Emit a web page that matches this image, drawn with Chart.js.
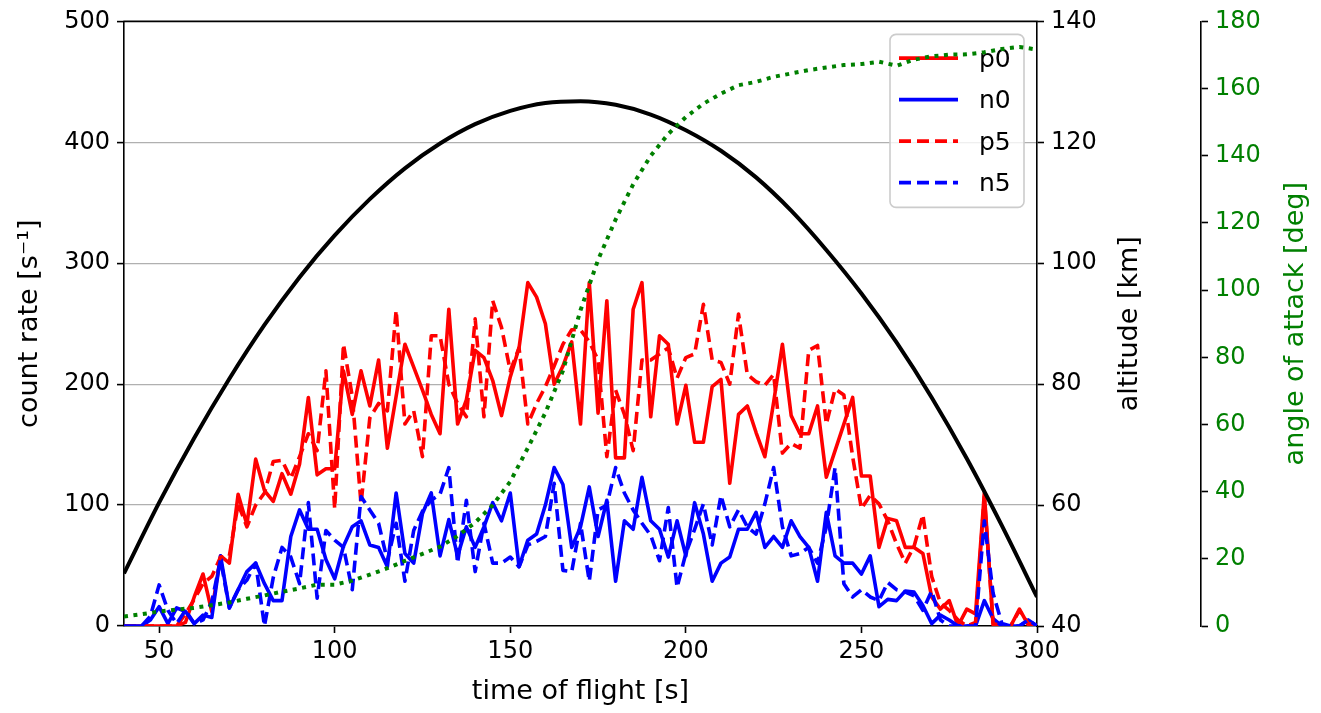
<!DOCTYPE html>
<html>
<head>
<meta charset="utf-8">
<script src="https://cdn.jsdelivr.net/npm/chart.js@4.4.1/dist/chart.umd.min.js"></script>
<style>
html,body{margin:0;padding:0;background:#ffffff;overflow:hidden;}
#wrap{position:relative;width:1321px;height:713px;}
canvas{display:block;}
</style>
</head>
<body>
<div id="wrap"><canvas id="chart" width="1321" height="713"></canvas></div>
<script>
// ---- data ----
const times = [40,42.5,45,47.5,50,52.5,55,57.5,60,62.5,
  65,67.5,70,72.5,75,77.5,80,82.5,85,87.5,
  90,92.5,95,97.5,100,102.5,105,107.5,110,112.5,
  115,117.5,120,122.5,125,127.5,130,132.5,135,137.5,
  140,142.5,145,147.5,150,152.5,155,157.5,160,162.5,
  165,167.5,170,172.5,175,177.5,180,182.5,185,187.5,
  190,192.5,195,197.5,200,202.5,205,207.5,210,212.5,
  215,217.5,220,222.5,225,227.5,230,232.5,235,237.5,
  240,242.5,245,247.5,250,252.5,255,257.5,260,262.5,
  265,267.5,270,272.5,275,277.5,280,282.5,285,287.5,
  290,292.5,295,297.5,300];

const p0 = [0,0,0,0,0,0,0,3,24,43,
  12,58,52,109,84,138,112,103,126,109,
  134,189,125,130,130,211,175,211,182,220,
  147,190,233,214,195,175,159,262,167,187,
  228,222,203,174,206,230,284,272,250,200,
  215,235,167,284,176,269,139,139,262,284,
  173,240,233,167,199,152,152,198,204,118,
  175,182,160,140,185,233,174,159,159,182,
  123,145,167,189,124,124,65,89,87,65,
  65,60,24,14,21,0,14,10,110,1,
  0,0,14,1,0];

const n0 = [0,0,0,5,16,2,15,12,2,9,
  7,58,15,30,45,52,35,21,21,74,
  96,80,80,55,39,66,82,87,67,65,
  49,110,60,52,93,110,58,88,58,82,
  65,82,102,87,110,49,71,76,100,131,
  117,65,82,115,74,104,37,87,80,123,
  87,80,57,87,58,102,76,37,52,57,
  80,80,94,65,74,65,87,74,65,37,
  94,58,52,52,43,58,16,22,21,29,
  28,17,2,9,5,0,0,0,21,6,
  0,0,0,5,0];

const p5 = [0,0,0,0,0,0,0,10,22,35,
  41,57,58,101,82,100,110,136,137,122,
  140,159,145,211,97,233,190,101,172,184,
  178,261,167,178,140,240,240,200,184,173,
  254,173,269,247,211,230,167,184,198,215,
  233,245,245,235,220,140,195,175,145,220,
  220,225,230,205,222,225,266,220,218,200,
  258,208,202,199,208,143,151,147,228,232,
  167,196,191,140,97,108,101,87,68,52,
  66,92,41,19,13,5,0,3,107,2,
  0,0,13,2,0];

const n5 = [0,0,0,8,34,13,2,13,2,5,
  20,55,15,30,38,52,0,40,65,57,
  35,102,23,79,71,65,30,107,96,85,
  54,85,37,79,95,104,109,131,52,104,
  45,85,52,52,57,49,67,70,74,118,
  46,45,85,37,96,100,131,110,96,85,
  75,54,98,32,60,80,101,67,108,82,
  96,82,76,101,131,82,58,60,65,52,
  82,131,35,24,30,24,21,36,30,28,
  25,13,29,5,0,0,0,0,87,27,
  2,0,0,5,0];

const altTimes = [40,50,60,70,80,90,100,110,120,130,140,150,160,170,
  180,190,200,210,220,230,240,250,260,270,280,290,300];
const altitude = [48.7,60.4,71.1,80.9,89.8,97.7,104.6,110.6,115.7,119.8,123.0,125.2,126.5,126.8,
  126.2,124.6,122.0,118.6,114.2,108.7,102.2,95.0,86.9,77.8,67.7,56.6,44.8];

const angTimes = [40,45,50,55,60,65,70,75,80,85,90,95,100,105,110,115,120,125,130,135,
  140,145,150,155,160,165,170,175,180,185,190,195,200,205,210,215,220,225,230,235,
  240,245,250,255,260,265,270,275,280,285,290,295,300];
const angle = [2.8,3.5,4.3,4.9,5.4,6.2,7.0,8.1,9.1,10.2,11.2,12.3,12.3,13.5,15.3,17.2,19.4,21.5,23.6,26.8,
  30.8,36.0,43.0,53.0,63.5,76.0,94.0,109.0,121.0,131.5,140.0,146.5,151.5,155.5,158.5,161.0,162.0,163.5,164.5,165.5,
  166.3,167.0,167.3,168.0,166.8,168.6,169.6,170.1,170.2,170.8,171.8,172.4,171.6];

const xTicks = [50,100,150,200,250,300];
const countTicks = [0,100,200,300,400,500];
const altTicks = [40,60,80,100,120,140];
const angTicks = [0,20,40,60,80,100,120,140,160,180];
const legendLabels = ['p0','n0','p5','n5'];

// ---- styling ----
const FONT = "'DejaVu Sans', 'Liberation Sans', sans-serif";
const GREEN = '#008000';
const TICKFONT = {family: FONT, size: 24};
const TITLEFONT = {family: FONT, size: 27};

function xy(xs, ys) { return xs.map((x, i) => ({x: x, y: ys[i]})); }
function setTicks(list) { return function (scale) { scale.ticks = list.map(v => ({value: v})); }; }

function roundRectPath(ctx, x, y, w, h, r) {
  ctx.beginPath();
  ctx.moveTo(x + r, y);
  ctx.lineTo(x + w - r, y);
  ctx.arcTo(x + w, y, x + w, y + r, r);
  ctx.lineTo(x + w, y + h - r);
  ctx.arcTo(x + w, y + h, x + w - r, y + h, r);
  ctx.lineTo(x + r, y + h);
  ctx.arcTo(x, y + h, x, y + h - r, r);
  ctx.lineTo(x, y + r);
  ctx.arcTo(x, y, x + r, y, r);
  ctx.closePath();
}

const extrasPlugin = {
  id: 'extras',
  beforeDatasetsDraw(chart) {
    const ctx = chart.ctx, a = chart.chartArea;
    ctx.save();
    ctx.strokeStyle = '#000';
    ctx.lineWidth = 1.6;
    ctx.beginPath();
    ctx.moveTo(a.left - 0.8, a.top);
    ctx.lineTo(a.right + 0.8, a.top);
    ctx.stroke();
    ctx.restore();
  },
  beforeDatasetDraw(chart, args) {
    const ds = chart.data.datasets[args.index];
    if (ds.label !== 'altitude') return;
    const ctx = chart.ctx, a = chart.chartArea;
    const w = 134, h = 173;
    const left = a.right - 13 - w, top = a.top + 13;
    ctx.save();
    roundRectPath(ctx, left, top, w, h, 6);
    ctx.fillStyle = 'rgba(255,255,255,0.8)';
    ctx.fill();
    ctx.strokeStyle = '#cccccc';
    ctx.lineWidth = 1.6;
    ctx.stroke();
    legendLabels.forEach((lab, i) => {
      const d = chart.data.datasets.find(s => s.label === lab);
      const y = top + 23.7 + i * 41.5;
      ctx.save();
      ctx.strokeStyle = d.borderColor;
      ctx.lineWidth = d.borderWidth;
      ctx.setLineDash(d.borderDash || []);
      ctx.lineCap = 'butt';
      ctx.beginPath();
      ctx.moveTo(left + 9, y);
      ctx.lineTo(left + 68, y);
      ctx.stroke();
      ctx.restore();
      ctx.fillStyle = '#000';
      ctx.font = '25px ' + FONT;
      ctx.textAlign = 'left';
      ctx.textBaseline = 'middle';
      ctx.fillText(lab, left + 89, y + 2);
    });
    ctx.restore();
  },
  afterDraw(chart) {
    const ctx = chart.ctx, a = chart.chartArea;
    const cy = (a.top + a.bottom) / 2;
    const alt = chart.scales.alt, ang = chart.scales.ang;
    function rot(text, x, color) {
      ctx.save();
      ctx.translate(x, cy);
      ctx.rotate(-Math.PI / 2);
      ctx.font = '27px ' + FONT;
      ctx.fillStyle = color;
      ctx.textAlign = 'center';
      ctx.textBaseline = 'middle';
      ctx.fillText(text, 0, 0);
      ctx.restore();
    }
    rot('altitude [km]', alt.left + 93, '#000');
    rot('angle of attack [deg]', ang.left + 95, GREEN);
  }
};

const chart = new Chart(document.getElementById('chart'), {
  type: 'line',
  data: {
    datasets: [
      {label: 'p0', data: xy(times, p0), yAxisID: 'y', borderColor: '#ff0000', borderWidth: 3.6, order: 6},
      {label: 'n0', data: xy(times, n0), yAxisID: 'y', borderColor: '#0000ff', borderWidth: 3.6, order: 5},
      {label: 'p5', data: xy(times, p5), yAxisID: 'y', borderColor: '#ff0000', borderWidth: 3.6, borderDash: [12, 6], order: 4},
      {label: 'n5', data: xy(times, n5), yAxisID: 'y', borderColor: '#0000ff', borderWidth: 3.6, borderDash: [12, 6], order: 3},
      {label: 'altitude', data: xy(altTimes, altitude), yAxisID: 'alt', borderColor: '#000000', borderWidth: 4, order: 2, cubicInterpolationMode: 'monotone'},
      {label: 'angle', data: xy(angTimes, angle), yAxisID: 'ang', borderColor: GREEN, borderWidth: 4, borderDash: [4, 5.5], order: 1}
    ]
  },
  options: {
    responsive: false,
    animation: false,
    devicePixelRatio: 1,
    events: [],
    layout: {padding: {top: 20, left: 0, right: 0, bottom: 0}},
    elements: {
      point: {radius: 0},
      line: {tension: 0, borderJoinStyle: 'round', fill: false}
    },
    plugins: {legend: {display: false}, tooltip: {enabled: false}},
    scales: {
      x: {
        type: 'linear', position: 'bottom', min: 40, max: 300,
        afterBuildTicks: setTicks(xTicks),
        afterFit: s => { s.height = 87; },
        grid: {drawOnChartArea: false, drawTicks: true, tickLength: 7, tickWidth: 1.6, tickColor: '#000'},
        border: {display: true, color: '#000', width: 1.6},
        ticks: {font: TICKFONT, color: '#000', padding: 4, maxRotation: 0, autoSkip: false},
        title: {display: true, text: 'time of flight [s]', font: TITLEFONT, color: '#000', padding: {top: 0, bottom: 5}}
      },
      y: {
        type: 'linear', position: 'left', min: 0, max: 500,
        afterBuildTicks: setTicks(countTicks),
        afterFit: s => { s.width = 124; },
        grid: {
          drawOnChartArea: true,
          color: c => (c.tick && (c.tick.value === 0 || c.tick.value === 500)) ? 'rgba(0,0,0,0)' : '#b0b0b0',
          lineWidth: 1.2, tickLength: 7, tickWidth: 1.6, tickColor: '#000'
        },
        border: {display: true, color: '#000', width: 1.6},
        ticks: {font: TICKFONT, color: '#000', padding: 7},
        title: {display: true, text: 'count rate [s\u207B\u00B9]', font: TITLEFONT, color: '#000', padding: {top: 14, bottom: 0}}
      },
      alt: {
        type: 'linear', position: 'right', weight: 1, min: 40, max: 140,
        afterBuildTicks: setTicks(altTicks),
        afterFit: s => { s.width = 164; },
        grid: {drawOnChartArea: false, tickLength: 7, tickWidth: 1.6, tickColor: '#000'},
        border: {display: true, color: '#000', width: 1.6},
        ticks: {font: TICKFONT, color: '#000', padding: 7}
      },
      ang: {
        type: 'linear', position: 'right', weight: 2, min: 0, max: 180,
        afterBuildTicks: setTicks(angTicks),
        afterFit: s => { s.width = 120; },
        grid: {drawOnChartArea: false, tickLength: 7, tickWidth: 1.6, tickColor: '#000'},
        border: {display: true, color: '#000', width: 1.6},
        ticks: {font: TICKFONT, color: GREEN, padding: 7}
      }
    }
  },
  plugins: [extrasPlugin]
});
</script>
</body>
</html>
